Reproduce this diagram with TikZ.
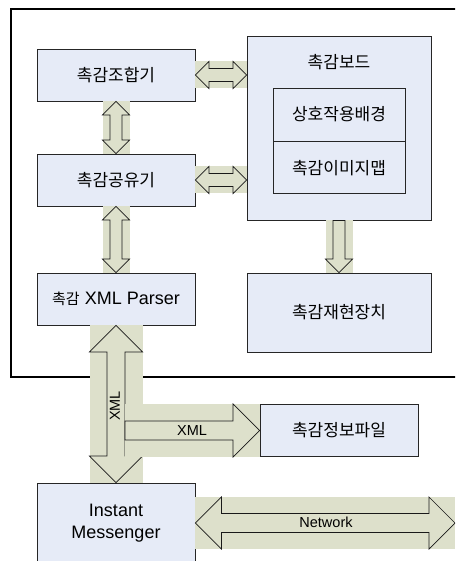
\documentclass[tikz,border=0pt]{standalone}
\usepackage{fontspec}
\setmainfont{Liberation Sans}
\newfontfamily\kr{Noto Sans CJK KR}
\usetikzlibrary{calc}

\definecolor{boxfill}{HTML}{E6EBF7}
\definecolor{arrowfill}{HTML}{DDE0CB}

% block arrows: #1 start, #2 end, #3 half head width, #4 half shaft width
\newcommand\dblharrow[4]{%
  \fill[arrowbg] ([yshift=#3]#1) rectangle ([yshift=-#3]#2);
  \draw[arrowline] let \p1=(#1), \p2=(#2) in
    (\p1) -- (\x1+#3,\y1+#3) -- (\x1+#3,\y1+#4) -- (\x2-#3,\y1+#4) -- (\x2-#3,\y1+#3)
    -- (\x2,\y1) -- (\x2-#3,\y1-#3) -- (\x2-#3,\y1-#4) -- (\x1+#3,\y1-#4) -- (\x1+#3,\y1-#3) -- cycle;}
\newcommand\dblvarrow[4]{%
  \fill[arrowbg] ([xshift=-#3]#1) rectangle ([xshift=#3]#2);
  \draw[arrowline] let \p1=(#1), \p2=(#2) in
    (\p1) -- (\x1+#3,\y1-#3) -- (\x1+#4,\y1-#3) -- (\x1+#4,\y2+#3) -- (\x1+#3,\y2+#3)
    -- (\x1,\y2) -- (\x1-#3,\y2+#3) -- (\x1-#4,\y2+#3) -- (\x1-#4,\y1-#3) -- (\x1-#3,\y1-#3) -- cycle;}
\newcommand\blockdown[4]{%
  \fill[arrowbg] ([xshift=-#3]#1) rectangle ([xshift=#3]#2);
  \draw[arrowline] let \p1=(#1), \p2=(#2) in
    (\x1-#4,\y1) -- (\x1+#4,\y1) -- (\x1+#4,\y2+#3) -- (\x1+#3,\y2+#3)
    -- (\x1,\y2) -- (\x1-#3,\y2+#3) -- (\x1-#4,\y2+#3) -- cycle;}
\newcommand\blockright[4]{%
  \fill[arrowbg] ([yshift=#3]#1) rectangle ([yshift=-#3]#2);
  \draw[arrowline] let \p1=(#1), \p2=(#2) in
    (\x1,\y1+#4) -- (\x2-#3,\y1+#4) -- (\x2-#3,\y1+#3) -- (\x2,\y1)
    -- (\x2-#3,\y1-#3) -- (\x2-#3,\y1-#4) -- (\x1,\y1-#4) -- cycle;}

\begin{document}
\begin{tikzpicture}[x=1pt, y=-1pt,
  box/.style={draw=black!85, line width=0.9pt, fill=boxfill, inner sep=0pt,
    font=\kr\fontsize{17}{20}\selectfont},
  unit/.style={box, minimum width=158pt, minimum height=52pt},
  arrowbg/.style={fill=arrowfill},
  arrowline/.style={draw=black!90, line width=0.7pt, line join=miter},
  tag/.style={font=\fontsize{14.5}{17}\selectfont, inner sep=0pt}
]
\useasboundingbox (0,0) rectangle (455,561);
\clip (0,0) rectangle (455,561);

% system frame
\draw[line width=1.6pt] (11,9) rectangle (480,377);

% left column
\node[unit] (comb) at (116,75) {촉감조합기};
\node[unit] (share) at (116,180) {촉감공유기};
\node[unit, font=\fontsize{18}{21}\selectfont] (parser) at (116,299)
  {{\kr\fontsize{15}{18}\selectfont 촉감} XML Parser};
\node[unit, minimum height=80pt, align=center, font=\fontsize{18}{22}\selectfont]
  (im) at (116,523) {Instant\\Messenger};

% right column
\node[box, minimum width=184pt, minimum height=184pt] (board) at (339,128) {};
\node[font=\kr\fontsize{17}{20}\selectfont, inner sep=0pt] (boardtitle) at (339,62) {촉감보드};
\node[box, minimum width=132pt, minimum height=53pt] (bg) at (339,114.5) {상호작용배경};
\node[box, minimum width=132pt, minimum height=52pt, anchor=north] (imap) at (bg.south) {촉감이미지맵};
\node[box, minimum width=184pt, minimum height=79pt] (render) at (339,312.5) {촉감재현장치};
\node[unit] (file) at (339,430.5) {촉감정보파일};

\coordinate (split) at ([xshift=9pt]parser.south |- file.west);
\coordinate (net) at (455,523);

% block arrows
\dblharrow{comb.east}{comb.east -| board.west}{13.5pt}{6.5pt}
\dblharrow{share.east}{share.east -| board.west}{13.5pt}{6.5pt}
\dblvarrow{comb.south}{share.north}{13.5pt}{6pt}
\dblvarrow{share.south}{parser.north}{13.5pt}{6pt}
\blockdown{board.south}{render.north}{13.5pt}{6pt}
\dblvarrow{parser.south}{im.north}{26.5pt}{9pt}
\blockright{split}{file.west}{26.5pt}{9.5pt}
\dblharrow{im.east}{net}{26pt}{9.5pt}

\node[tag, rotate=90] (xmlup) at (115,406) {XML};
\node[tag] (xmlright) at (192,431) {XML};
\node[tag] (network) at (326,522) {Network};
\end{tikzpicture}
\end{document}
